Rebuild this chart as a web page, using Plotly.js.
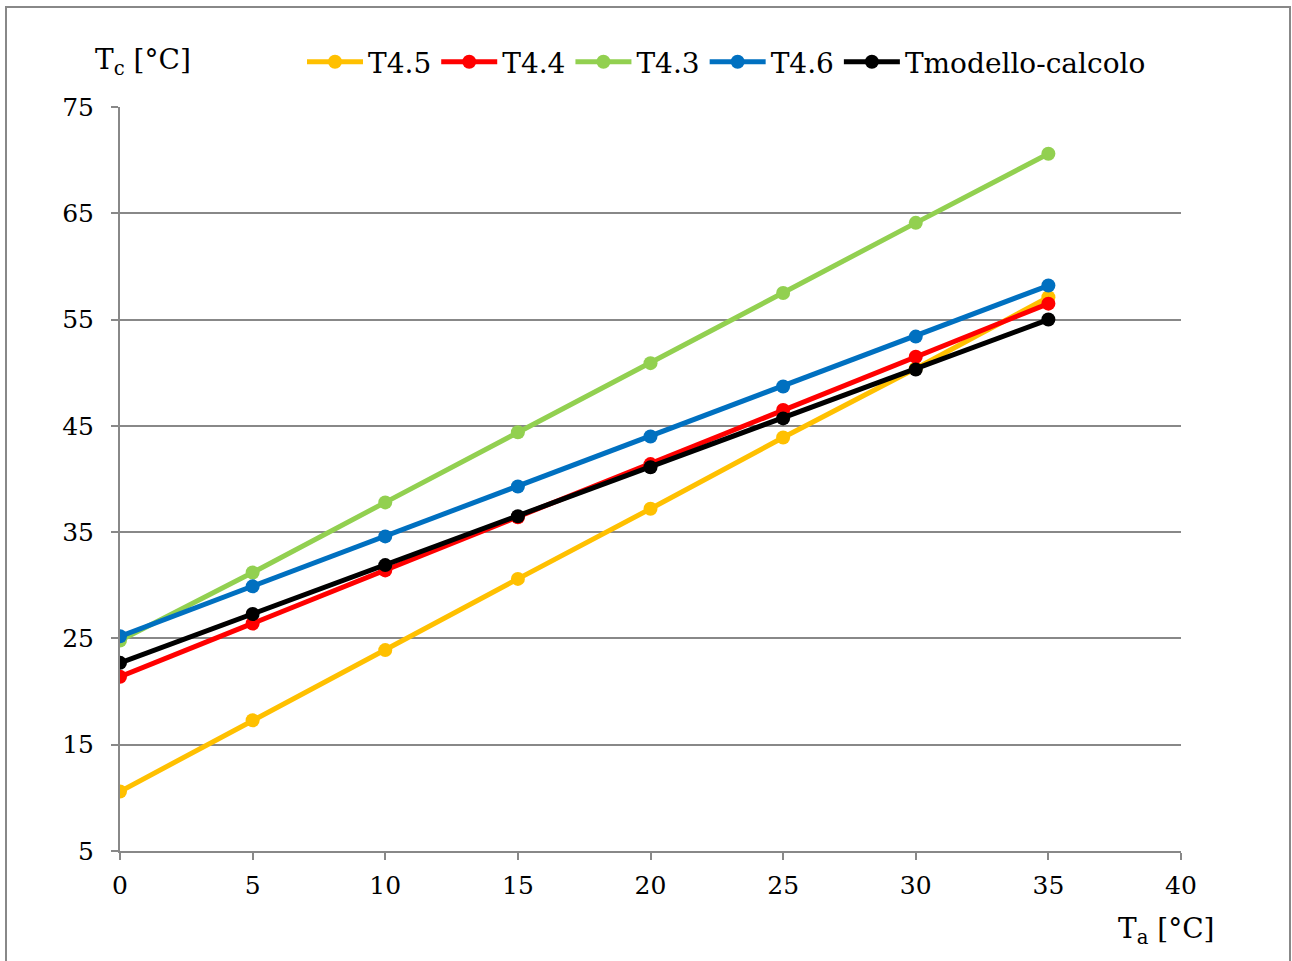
<!DOCTYPE html>
<html>
<head>
<meta charset="utf-8">
<script src="https://cdn.plot.ly/plotly-3.0.1.min.js"></script>
<style>html,body{margin:0;padding:0;background:#fff;}#chart{width:1292px;height:961px;}</style>
</head>
<body>
<div id="chart"></div>
<script>
const ta = [0, 5, 10, 15, 20, 25, 30, 35];
const t45 = [10.6, 17.3, 23.9, 30.6, 37.2, 43.9, 50.4, 57.1];
const t44 = [21.4, 26.4, 31.4, 36.4, 41.4, 46.5, 51.5, 56.5];
const t43 = [24.8, 31.2, 37.8, 44.4, 50.9, 57.5, 64.1, 70.6];
const t46 = [25.2, 29.9, 34.6, 39.3, 44.0, 48.7, 53.4, 58.2];
const tmod = [22.7, 27.3, 31.9, 36.5, 41.1, 45.7, 50.3, 55.0];

const seriesNames = ['T4.5', 'T4.4', 'T4.3', 'T4.6', 'Tmodello-calcolo'];
const seriesValues = [t45, t44, t43, t46, tmod];
const seriesColors = ['#FFC000', '#FF0000', '#92D050', '#0070C0', '#000000'];

const font = 'DejaVu Serif, serif';

const traces = seriesNames.map((n, i) => ({
  x: ta, y: seriesValues[i], name: n, type: 'scatter', mode: 'lines+markers',
  line: {color: seriesColors[i], width: 5},
  marker: {color: seriesColors[i], size: 14}
}));

const L = 120, R = 1181, T = 107, B = 851, W = 1292, H = 961;
const px = v => (v - L) / (R - L);
const py = v => (B - v) / (B - T);

const layout = {
  width: W, height: H,
  margin: {l: L, r: W - R, t: T, b: H - B, pad: 0},
  paper_bgcolor: '#fff', plot_bgcolor: '#fff',
  font: {family: font, size: 25, color: '#000'},
  showlegend: true,
  legend: {orientation: 'h', x: px(302), y: py(62), xanchor: 'left', yanchor: 'middle',
           font: {family: font, size: 28, color: '#000'}, itemwidth: 56, tracegroupgap: 0,
           bgcolor: 'rgba(0,0,0,0)'},
  xaxis: {range: [0, 40], dtick: 5, tick0: 0, showgrid: false, zeroline: false,
          showline: true, linecolor: '#888', linewidth: 2,
          ticks: 'outside', ticklen: 7, tickwidth: 2, tickcolor: '#888',
          ticklabelstandoff: 4,
          tickfont: {family: font, size: 25, color: '#000'}},
  yaxis: {range: [5, 75], dtick: 10, tick0: 5, showgrid: true, gridcolor: '#888', gridwidth: 2,
          zeroline: false, showline: true, linecolor: '#888', linewidth: 2,
          ticks: 'outside', ticklen: 7, tickwidth: 2, tickcolor: '#888',
          ticklabelstandoff: 12,
          tickfont: {family: font, size: 25, color: '#000'}},
  annotations: [
    {text: 'T<sub>c</sub> [°C]', xref: 'paper', yref: 'paper', x: px(93), y: py(62),
     xanchor: 'left', yanchor: 'middle', showarrow: false, font: {family: font, size: 28, color: '#000'}},
    {text: 'T<sub>a</sub> [°C]', xref: 'paper', yref: 'paper', x: px(1116), y: py(930),
     xanchor: 'left', yanchor: 'middle', showarrow: false, font: {family: font, size: 28, color: '#000'}}
  ],
  shapes: [
    {type: 'rect', xref: 'paper', yref: 'paper', x0: px(6), x1: px(1290), y0: py(975), y1: py(7),
     line: {color: '#888', width: 2}, fillcolor: 'rgba(0,0,0,0)', layer: 'below'}
  ]
};

Plotly.newPlot('chart', traces, layout, {displayModeBar: false, staticPlot: true});
</script>
</body>
</html>
